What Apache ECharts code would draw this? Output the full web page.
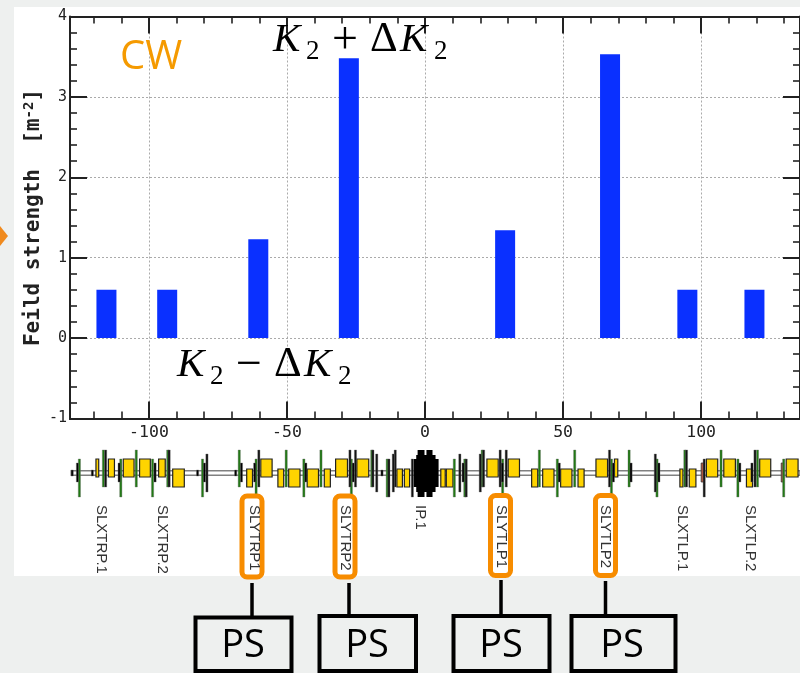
<!DOCTYPE html>
<html><head><meta charset="utf-8">
<style>html,body{margin:0;padding:0;background:#eef0ef;overflow:hidden}#c{width:800px;height:673px}</style>
<script src="https://cdn.jsdelivr.net/npm/echarts@6/dist/echarts.min.js"></script>
</head><body><div id="c"></div>
<script>
// Bars: longitudinal position (m) and field strength (m^-2)
const barPositions = [-115.4, -93.4, -60.4, -27.6, 29, 67, 95, 119.3];
const barValues = [0.6, 0.6, 1.23, 3.48, 1.34, 3.53, 0.6, 0.6];
const xMajorTicks = [-100, -50, 0, 50, 100];
const xMinorTicks = [-120,-110,-90,-80,-70,-60,-40,-30,-20,-10,10,20,30,40,60,70,80,90,110,120,130];
const yMin = -1, yMax = 4;
const elementNames = ['SLXTRP.1','SLXTRP.2','SLYTRP1','SLYTRP2','IP.1','SLYTLP1','SLYTLP2','SLXTLP.1','SLXTLP.2'];
const elementNamePositions = [-117.3,-95.3,-62,-29.1,-1.7,27.6,65.2,93,117.7];
// Lattice: start/end of yellow magnets (m)
const upperDipoles = [[-119.2,-118.2],[-114.7,-112.5],[-109.3,-105.4],[-103.4,-99.5],[-96.5,-94.1],[-59.5,-55.4],[-32.4,-28.1],[-24.7,-20.4],[22.4,26.5],[30.1,34.2],[61.9,66.1],[68.6,69.8],[101.9,106],[108.2,112.4],[121.2,125.2],[130.8,135.1]];
const lowerDipoles = [[-91.4,-87.2],[-64.6,-62.5],[-53.3,-51.2],[-49.4,-45.3],[-42.7,-38.6],[-36.5,-34.3],[-10.2,-8.2],[-7.5,-5.6],[5.7,7.3],[7.7,10.1],[38.6,40.8],[42.6,46.7],[49.1,53.2],[55.4,57.6],[92.3,93.4],[95.7,98.1],[116.4,118.6]];
const redElements = [[100,101.1],[129,129.8]];
const irBlobOuter = [[-4.1,4.9]], irBlobMiddle = [[-3.2,3.8]], irBlobTopLeft = [[-2.7,-0.2]], irBlobTopRight = [[0.5,2.7]];
// Lattice: thin element positions (m)
const greenUpper = [-116.5,-104.6,-93.2,-67.3,-50.3,-37.7,-19.3,20.7,41.4,54.2,73.9,94.1,107.2,120.4];
const greenLower = [-125.2,-110.2,-98.7,-80.6,-61.2,-43.9,-26.7,-13.7,10.6,14.4,28.1,47.9,67.5,84,113.3,129.9];
const blackUpper = [-115.7,-92.7,-60.2,-27.2,-25.2,-18.9,-10.8,21.2,27.2,29.4,66.8,94.7,119.5];
const blackMiddle = [-79,-17.5,-11.5,12.6,20,83.4];
const blackLower = [-13.1,-4.6,14.9,101.1];
const blackShort = [-125.9,-110.8,-97.8,-79.9,-66.5,-61.7,-43.2,-26,13.8,28,48.6,68.2,74.6,84.7,114,118.4];
const blackTiny = [-127.8,-120.5,-82.4,-68.6,-15.6];

const xMin = -128.6, xMax = 135.8;
const INK = '#222', ORANGE = '#f78c00';
const mono = 'DejaVu Sans Mono';

const boxClass = {
  upper:{y:[14,-4],fill:'#ffd400',stroke:'#222',lw:1.2},
  lower:{y:[4,-14],fill:'#ffd400',stroke:'#222',lw:1.2},
  red:{y:[10,-9],fill:'#b5533c',stroke:'#333',lw:0.8},
  blobOuter:{y:[14,-14],fill:'#000',stroke:'#000',lw:0},
  blobMiddle:{y:[18,-19],fill:'#000',stroke:'#000',lw:0},
  blobTop:{y:[23,-24],fill:'#000',stroke:'#000',lw:0}
};
const lineClass = {
  gu:{y:[23,-14],fill:'#1f7a12'}, gl:{y:[14,-24],fill:'#1f7a12'},
  bu:{y:[23,-14],fill:'#111'}, bm:{y:[19,-19],fill:'#111'}, bl:{y:[14,-24],fill:'#111'},
  bs:{y:[10,-9],fill:'#000'}, bt:{y:[3,-3],fill:'#000'}
};
const latticeKinds = [];
const latticeData = [];
const pushItem = (kind, cls, a, b) => { latticeKinds.push({kind, cls}); latticeData.push([a, b]); };
const addBoxes = (list, cls) => list.forEach(p => pushItem('box', cls, p[0], p[1]));
const addLines = (list, cls) => list.forEach(x => pushItem('line', cls, x, x));
pushItem('pipe', 'pipe', xMin + 0.5, xMax);
addLines(blackTiny,'bt');
addBoxes(upperDipoles,'upper'); addBoxes(lowerDipoles,'lower'); addBoxes(redElements,'red');
addLines(greenUpper,'gu'); addLines(greenLower,'gl');
addLines(blackUpper,'bu'); addLines(blackMiddle,'bm'); addLines(blackLower,'bl'); addLines(blackShort,'bs');
addBoxes(irBlobOuter,'blobOuter'); addBoxes(irBlobMiddle,'blobMiddle');
addBoxes(irBlobTopLeft,'blobTop'); addBoxes(irBlobTopRight,'blobTop');

function renderLattice(params, api){
  const meta = latticeKinds[params.dataIndex];
  const x1 = api.value(0), x2 = api.value(1), cls = meta.cls;
  if (meta.kind === 'pipe'){
    const a = api.coord([x1, 2.3]), b = api.coord([x2, -2.3]);
    return {type:'rect', shape:{x:a[0], y:a[1], width:b[0]-a[0], height:b[1]-a[1]},
      style:{fill:'#fff', stroke:'#808080', lineWidth:1.6}};
  }
  if (meta.kind === 'box'){
    const c = boxClass[cls];
    const a = api.coord([x1, c.y[0]]), b = api.coord([x2, c.y[1]]);
    return {type:'rect', shape:{x:a[0], y:a[1], width:b[0]-a[0], height:b[1]-a[1]},
      style:{fill:c.fill, stroke:c.lw?c.stroke:null, lineWidth:c.lw}};
  }
  const c = lineClass[cls];
  const a = api.coord([x1, c.y[0]]), b = api.coord([x1, c.y[1]]);
  return {type:'rect', shape:{x:a[0]-1.1, y:a[1], width:2.2, height:b[1]-a[1]},
    style:{fill:c.fill, stroke:'rgba(110,110,110,0.55)', lineWidth:0.7}};
}
function renderName(params, api){
  const p = api.coord([api.value(0), 0]);
  return {type:'text', x:p[0], y:505, rotation:-Math.PI/2,
    style:{text:elementNames[params.dataIndex], fill:'#333', font:'15px "Liberation Sans"',
      align:'left', verticalAlign:'middle'}};
}

const xBase = {min:xMin, max:xMax, type:'value', gridIndex:0};
const hiddenBits = {axisLabel:{show:false}, splitLine:{show:false}};
const tickX = (position, values, length) => Object.assign({}, xBase, hiddenBits, {
  position,
  axisLine:{show:true, onZero:false, lineStyle:{color:INK, width:2}},
  axisTick:{show:true, inside:true, length, customValues:values, lineStyle:{color:INK, width:length>10?2:1.6}}
});
const tickY = (position, extra) => Object.assign({
  type:'value', gridIndex:0, min:yMin, max:yMax, interval:1, position,
  axisLine:{show:true, onZero:false, lineStyle:{color:INK, width:2}},
  axisTick:{show:true, inside:true, length:17, lineStyle:{color:INK, width:2}},
  minorTick:{show:true, splitNumber:5, length:7, lineStyle:{color:INK, width:1.6}},
  axisLabel:{show:false}, splitLine:{show:false}
}, extra);

const grayBoxes = [
  {x:195.5,y:617.5,w:96,h:53.5,c:243},{x:319.5,y:616,w:96.5,h:55,c:367},
  {x:453.5,y:616,w:96,h:55,c:501},{x:571.5,y:616,w:104,h:55,c:622}
];
const connectors = [[252,583,618],[349,583,617],[501,580,616],[605.5,581,616]];
const orangeBoxes = [[242,496,20,81],[335,496,20,81],[490.5,495.5,20,80],[595.5,495.5,20,80]];

const graphic = [
  {type:'rect', z:-1, silent:true, shape:{x:14,y:7,width:786,height:569}, style:{fill:'#fff'}},
  {type:'polygon', z:5, silent:true, shape:{points:[[0,226],[8,236],[0,246]]}, style:{fill:'#f08a1e'}},
  {type:'text', z:20, x:120, y:58, style:{text:'CW', fill:'#f59a00', font:'40px "Open Sans"', verticalAlign:'middle'}}
];
orangeBoxes.forEach(b => graphic.push({type:'rect', z:5, silent:true,
  shape:{x:b[0],y:b[1],width:b[2],height:b[3],r:5},
  style:{fill:'#fff',stroke:ORANGE,lineWidth:5}}));
connectors.forEach(c => graphic.push({type:'line', z:5, silent:true,
  shape:{x1:c[0],y1:c[1],x2:c[0],y2:c[2]}, style:{stroke:'#000',lineWidth:3.5}}));
grayBoxes.forEach(b => {
  graphic.push({type:'rect', z:5, silent:true, shape:{x:b.x,y:b.y,width:b.w,height:b.h},
    style:{fill:'#eef0ef',stroke:'#000',lineWidth:4}});
  graphic.push({type:'text', z:6, x:b.c, y:646, style:{text:'PS', fill:'#000', font:'38px "Open Sans"', align:'center', verticalAlign:'middle'}});
});
function kLabel(x0, y0, op){
  const t = (text, dx, dy, size, italic) => graphic.push({type:'text', z:20, x:x0+dx, y:y0+dy-Math.round(size*0.83), silent:true,
    style:{text, fill:'#000', font:(italic?'italic ':'')+size+'px "Liberation Serif"', verticalAlign:'top'}});
  t('K',0,0,41,true); t('2',33,6,27,false); t(op,59,2,46,false); t('Δ',97,0,43,false); t('K',127,0,41,true); t('2',161,6,27,false);
}
kLabel(273, 54, '+');
kLabel(177, 379, '−');

const option = {
  animation:false,
  backgroundColor:'#eef0ef',
  graphic,
  grid:[
    {left:70, top:16.5, width:731, height:402, containLabel:false},
    {left:70, top:445, width:731, height:56}
  ],
  xAxis:[
    Object.assign({}, xBase, {
      position:'bottom',
      axisLine:{show:true, onZero:false, lineStyle:{color:INK, width:2}},
      axisTick:{show:true, inside:true, length:17, customValues:xMajorTicks, lineStyle:{color:INK, width:2}},
      axisLabel:{show:true, customValues:xMajorTicks, margin:6, showMinLabel:true, showMaxLabel:true,
        color:'#222', fontFamily:mono, fontSize:16.5},
      splitLine:{show:true, customValues:xMajorTicks, lineStyle:{color:'#aaa', type:[2,2], width:1}}
    }),
    tickX('bottom', xMinorTicks, 7),
    tickX('top', xMajorTicks, 17),
    tickX('top', xMinorTicks, 7),
    {type:'value', gridIndex:1, min:xMin, max:xMax, show:false}
  ],
  yAxis:[
    tickY('left', {
      axisLabel:{show:true, color:'#222', fontFamily:mono, fontSize:15, margin:3},
      splitLine:{show:true, lineStyle:{color:'#aaa', type:[2,2], width:1}},
      name:'{a|Feild strength  [m}{b|-2}{a|]}', nameLocation:'middle', nameGap:24, nameRotate:90, nameMoveOverlap:false,
      nameTextStyle:{color:'#222', rich:{
        a:{fontFamily:mono, fontWeight:'bold', fontSize:21, color:'#222'},
        b:{fontFamily:mono, fontWeight:'bold', fontSize:14, color:'#222', padding:[0,0,10,0]}
      }}
    }),
    tickY('right'),
    {type:'value', gridIndex:1, min:-28, max:28, show:false}
  ],
  series:[
    {type:'bar', xAxisIndex:0, yAxisIndex:0, barWidth:20, z:3, silent:true,
     itemStyle:{color:'#0a30ff'},
     data:barPositions.map((x,i)=>[x,barValues[i]])},
    {type:'custom', xAxisIndex:4, yAxisIndex:2, z:3, silent:true, clip:false,
     encode:{x:[0,1]}, renderItem:renderLattice, data:latticeData},
    {type:'custom', xAxisIndex:4, yAxisIndex:2, z:10, silent:true, clip:false,
     renderItem:renderName, encode:{x:0}, data:elementNamePositions.map(x=>[x])}
  ]
};
const chart = echarts.init(document.getElementById('c'), null, {renderer:'canvas'});
chart.setOption(option);
</script></body></html>
